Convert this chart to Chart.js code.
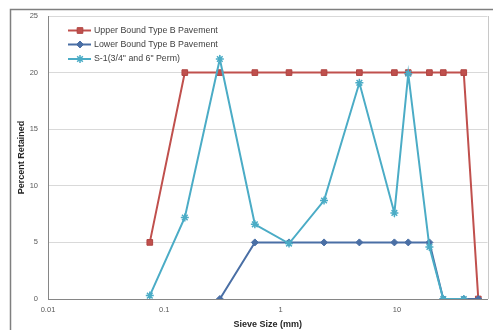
<!DOCTYPE html>
<html>
<head>
<meta charset="utf-8">
<script src="https://cdn.jsdelivr.net/npm/chart.js@4/dist/chart.umd.min.js"></script>
<style>
html,body{margin:0;padding:0;background:#fff;}
#wrap{width:493px;height:330px;position:relative;}
</style>
</head>
<body>
<div id="wrap"><canvas id="c" width="493" height="330"></canvas></div>
<script>
// ---- data ----
const sieveSizes = [0.075, 0.15, 0.3, 0.6, 1.18, 2.36, 4.75, 9.5, 12.5, 19, 25, 37.5, 50];
const upperBound = [5, 20, 20, 20, 20, 20, 20, 20, 20, 20, 20, 20, 0];
const lowerBound = [null, null, 0, 5, 5, 5, 5, 5, 5, 5, 0, 0, 0];
const s1Perm     = [0.3, 7.2, 21.2, 6.6, 4.9, 8.7, 19.1, 7.6, 19.9, 4.6, 0, 0, null];
const seriesNames = ['Upper Bound Type B Pavement', 'Lower Bound Type B Pavement', 'S-1(3/4" and 6" Perm)'];
const xTickValues = [0.01, 0.1, 1, 10];
const yTickValues = [0, 5, 10, 15, 20, 25];

const toPoints = (arr) => sieveSizes.map((x, i) => ({x: x, y: arr[i]})).filter(p => p.y !== null);

const FONT = '"Liberation Sans", Arial, sans-serif';

const legendPlugin = {
  id: 'manualLegend',
  afterDraw(chart) {
    const ctx = chart.ctx;
    ctx.save();
    // outer chart border (cropped in the reference)
    ctx.strokeStyle = '#7f7f7f';
    ctx.lineWidth = 1.5;
    ctx.beginPath();
    ctx.moveTo(10.5, 340);
    ctx.lineTo(10.5, 9.5);
    ctx.lineTo(500, 9.5);
    ctx.stroke();
    // plot area right border
    const ca = chart.chartArea;
    ctx.strokeStyle = '#c8c8c8';
    ctx.lineWidth = 1;
    ctx.beginPath();
    ctx.moveTo(Math.round(ca.right) + 0.5, ca.top);
    ctx.lineTo(Math.round(ca.right) + 0.5, ca.bottom);
    ctx.stroke();
    // legend
    const rows = [30.5, 44.5, 59];
    chart.data.datasets.forEach((ds, i) => {
      const y = rows[i];
      ctx.strokeStyle = ds.borderColor;
      ctx.lineWidth = 2;
      ctx.beginPath();
      ctx.moveTo(68, y);
      ctx.lineTo(91, y);
      ctx.stroke();
      ctx.fillStyle = ds.pointBackgroundColor;
      ctx.strokeStyle = ds.pointBorderColor;
      ctx.lineWidth = ds.pointBorderWidth;
      Chart.helpers.drawPoint(ctx, {pointStyle: ds.pointStyle, radius: ds.pointRadius, rotation: 0, borderWidth: ds.pointBorderWidth}, 80, y);
      ctx.fillStyle = '#404040';
      ctx.font = '8.8px ' + FONT;
      ctx.textBaseline = 'middle';
      ctx.textAlign = 'left';
      ctx.fillText(ds.label, 94, y);
    });
    ctx.restore();
  }
};

new Chart(document.getElementById('c'), {
  type: 'line',
  data: {
    datasets: [
      {
        label: seriesNames[0],
        data: toPoints(upperBound),
        order: 3,
        borderColor: '#c0504d',
        backgroundColor: '#c0504d',
        pointBackgroundColor: '#c0504d',
        pointBorderColor: '#b04542',
        pointBorderWidth: 1,
        pointStyle: 'rect',
        pointRadius: 4,
        borderWidth: 2,
        tension: 0
      },
      {
        label: seriesNames[1],
        data: toPoints(lowerBound),
        order: 2,
        borderColor: '#4a6fa5',
        backgroundColor: '#4a6fa5',
        pointBackgroundColor: '#4a6fa5',
        pointBorderColor: '#4a6fa5',
        pointBorderWidth: 1,
        pointStyle: 'rectRot',
        pointRadius: 3.5,
        borderWidth: 2,
        tension: 0
      },
      {
        label: seriesNames[2],
        data: toPoints(s1Perm),
        order: 1,
        borderColor: '#4bacc6',
        backgroundColor: '#4bacc6',
        pointBackgroundColor: '#4bacc6',
        pointBorderColor: '#4bacc6',
        pointBorderWidth: 1.5,
        pointStyle: 'star',
        pointRadius: 4,
        borderWidth: 2,
        tension: 0
      }
    ]
  },
  options: {
    responsive: false,
    animation: false,
    devicePixelRatio: 1,
    layout: {padding: {left: 0, top: 16, right: 4, bottom: 0}},
    plugins: {
      legend: {display: false},
      tooltip: {enabled: false}
    },
    scales: {
      x: {
        type: 'logarithmic',
        min: 0.01,
        max: 60,
        afterBuildTicks: (scale) => { scale.ticks = xTickValues.map(v => ({value: v})); },
        afterFit: (scale) => { scale.height = 31; },
        ticks: {
          autoSkip: false,
          maxRotation: 0,
          padding: 6,
          color: '#595959',
          font: {family: FONT, size: 7.5},
          callback: (v) => String(v)
        },
        grid: {color: 'rgba(0,0,0,0)', drawTicks: false},
        border: {display: true, color: '#868686', width: 1},
        title: {
          display: true,
          text: 'Sieve Size (mm)',
          color: '#262626',
          font: {family: FONT, size: 9, weight: 'bold'},
          padding: {top: 0, bottom: 0}
        }
      },
      y: {
        min: 0,
        max: 25,
        afterBuildTicks: (scale) => { scale.ticks = yTickValues.map(v => ({value: v})); },
        afterFit: (scale) => { scale.width = 48; },
        ticks: {
          padding: 10,
          color: '#595959',
          font: {family: FONT, size: 7.5}
        },
        grid: {color: '#d9d9d9', drawTicks: false},
        border: {display: true, color: '#868686', width: 1},
        title: {
          display: true,
          text: 'Percent Retained',
          color: '#262626',
          font: {family: FONT, size: 9, weight: 'bold'},
          padding: {top: 16, bottom: 0}
        }
      }
    }
  },
  plugins: [legendPlugin]
});
</script>
</body>
</html>
